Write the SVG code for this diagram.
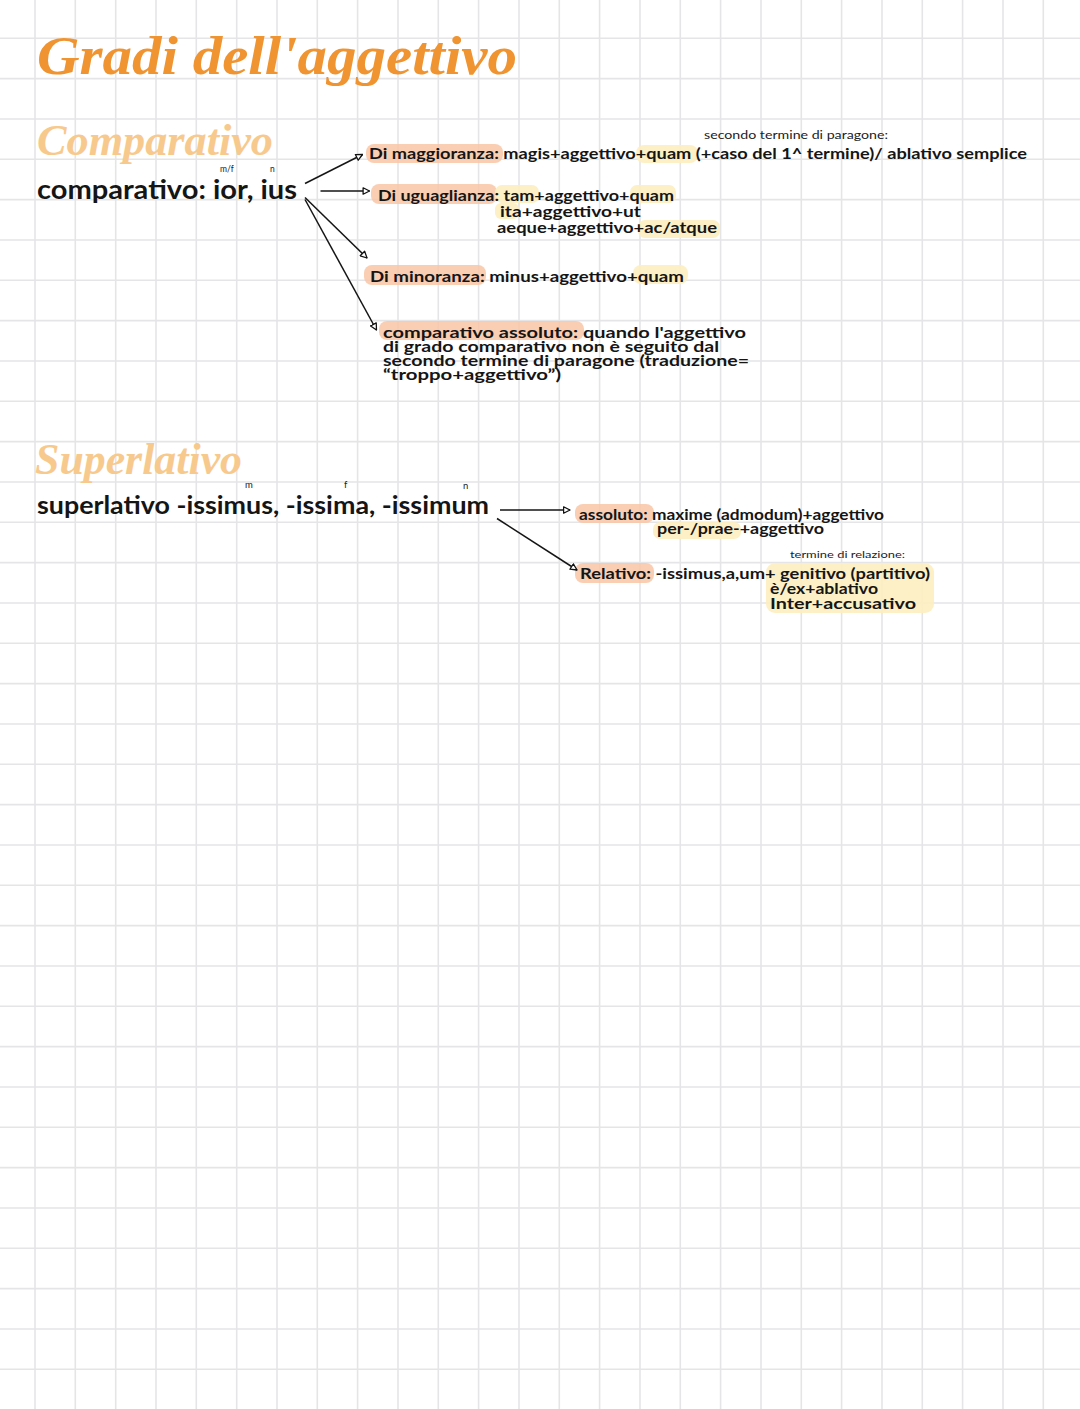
<svg xmlns="http://www.w3.org/2000/svg" width="1080" height="1409" viewBox="0 0 1080 1409">
<defs>
<marker id="ah" viewBox="0 0 10 10" refX="9" refY="5" markerWidth="8" markerHeight="8" markerUnits="userSpaceOnUse" orient="auto">
<path d="M1,1 L9,5 L1,9 Z" fill="#ffffff" stroke="#111111" stroke-width="1.6" stroke-linejoin="round"/>
</marker>
</defs>
<style>
.grid{fill:none;stroke:#e5e5e8;stroke-width:1.6}
.title{font-family:"Liberation Serif","DejaVu Serif",serif;font-style:italic;font-weight:bold}
.t{font-family:Lato,"Noto Sans",sans-serif;font-weight:bold;fill:#151515}
.s{font-family:Lato,"Noto Sans",sans-serif;font-weight:normal;fill:#222222}
.hs{fill:#f9c6a6;opacity:0.85}
.hy{fill:#fdeec0;opacity:0.9}
.con{fill:none;stroke:#151515;stroke-width:1.5;marker-end:url(#ah)}
</style>
<rect width="1080" height="1409" fill="#ffffff"/>
<path class="grid" d="M35 0V1409M75.3 0V1409M115.7 0V1409M156 0V1409M196.3 0V1409M236.7 0V1409M277 0V1409M317.3 0V1409M357.6 0V1409M398 0V1409M438.3 0V1409M478.6 0V1409M519 0V1409M559.3 0V1409M599.6 0V1409M640 0V1409M680.3 0V1409M720.6 0V1409M761 0V1409M801.3 0V1409M841.6 0V1409M882 0V1409M922.3 0V1409M962.6 0V1409M1003 0V1409M1043.3 0V1409M0 38.3H1080M0 78.6H1080M0 119H1080M0 159.3H1080M0 199.6H1080M0 240H1080M0 280.3H1080M0 320.6H1080M0 361H1080M0 401.3H1080M0 441.6H1080M0 482H1080M0 522.3H1080M0 562.6H1080M0 603H1080M0 643.3H1080M0 683.6H1080M0 724H1080M0 764.3H1080M0 804.6H1080M0 845H1080M0 885.3H1080M0 925.6H1080M0 966H1080M0 1006.3H1080M0 1046.6H1080M0 1087H1080M0 1127.3H1080M0 1167.6H1080M0 1208H1080M0 1248.3H1080M0 1288.6H1080M0 1329H1080M0 1369.3H1080"/>

<g id="title">
<text class="title" x="37" y="74" font-size="54" fill="#ef9430" textLength="480" lengthAdjust="spacingAndGlyphs">Gradi dell'aggettivo</text>
</g>

<g id="heading-comparativo">
<text class="title" x="37" y="155" font-size="44" fill="#f8c98c" textLength="236" lengthAdjust="spacingAndGlyphs">Comparativo</text>
</g>

<g id="node-comparativo">
<text class="s" x="220" y="172" font-size="8.5">m/f</text>
<text class="s" x="270" y="172" font-size="8.5">n</text>
<text class="t" x="37" y="199" font-size="26" textLength="260" lengthAdjust="spacingAndGlyphs">comparativo: ior, ius</text>
</g>

<g id="node-maggioranza">
<rect class="hs" x="366" y="144" width="137" height="19" rx="8"/>
<rect class="hy" x="636" y="145" width="62" height="18" rx="8"/>
<text class="s" x="704" y="139" font-size="10.5" textLength="184" lengthAdjust="spacingAndGlyphs">secondo termine di paragone:</text>
<text class="t" x="369" y="159" font-size="15.5" textLength="658" lengthAdjust="spacingAndGlyphs">Di maggioranza: magis+aggettivo+quam (+caso del 1^ termine)/ ablativo semplice</text>
</g>

<g id="node-uguaglianza">
<rect class="hs" x="371" y="184" width="126" height="20" rx="8"/>
<rect class="hy" x="495" y="185" width="44" height="18" rx="7"/>
<rect class="hy" x="630" y="185" width="46" height="18" rx="7"/>
<rect class="hy" x="495" y="203" width="24" height="16" rx="6"/>
<rect class="hy" x="638" y="220" width="82" height="18" rx="7"/>
<text class="t" x="378" y="201" font-size="15.5" textLength="296" lengthAdjust="spacingAndGlyphs">Di uguaglianza: tam+aggettivo+quam</text>
<text class="t" x="500" y="217" font-size="15.5" textLength="141" lengthAdjust="spacingAndGlyphs">ita+aggettivo+ut</text>
<text class="t" x="497" y="233" font-size="15.5" textLength="220" lengthAdjust="spacingAndGlyphs">aeque+aggettivo+ac/atque</text>
</g>

<g id="node-minoranza">
<rect class="hs" x="364" y="265" width="122" height="20" rx="8"/>
<rect class="hy" x="633" y="265" width="55" height="19" rx="8"/>
<text class="t" x="370" y="282" font-size="15.5" textLength="314" lengthAdjust="spacingAndGlyphs">Di minoranza: minus+aggettivo+quam</text>
</g>

<g id="node-assoluto-comp">
<rect class="hs" x="379" y="321" width="205" height="19" rx="8"/>
<text class="t" x="383" y="337.5" font-size="14.5" textLength="363" lengthAdjust="spacingAndGlyphs">comparativo assoluto: quando l'aggettivo</text>
<text class="t" x="383" y="351.5" font-size="14.5" textLength="336" lengthAdjust="spacingAndGlyphs">di grado comparativo non è seguito dal</text>
<text class="t" x="383" y="365.5" font-size="14.5" textLength="366" lengthAdjust="spacingAndGlyphs">secondo termine di paragone (traduzione=</text>
<text class="t" x="383" y="379.5" font-size="14.5" textLength="178" lengthAdjust="spacingAndGlyphs">“troppo+aggettivo”)</text>
</g>

<g id="heading-superlativo">
<text class="title" x="35" y="474" font-size="44" fill="#f8c98c" textLength="207" lengthAdjust="spacingAndGlyphs">Superlativo</text>
</g>

<g id="node-superlativo">
<text class="s" x="245" y="488" font-size="9.5">m</text>
<text class="s" x="344" y="488" font-size="9.5">f</text>
<text class="s" x="463" y="489" font-size="9.5">n</text>
<text class="t" x="37" y="514" font-size="24" textLength="452" lengthAdjust="spacingAndGlyphs">superlativo -issimus, -issima, -issimum</text>
</g>

<g id="node-assoluto-sup">
<rect class="hs" x="575" y="504" width="79" height="19" rx="8"/>
<rect class="hy" x="653" y="522" width="88" height="17" rx="7"/>
<text class="t" x="579" y="520" font-size="14.5" textLength="305" lengthAdjust="spacingAndGlyphs">assoluto: maxime (admodum)+aggettivo</text>
<text class="t" x="657" y="534" font-size="14.5" textLength="167" lengthAdjust="spacingAndGlyphs">per-/prae-+aggettivo</text>
</g>

<g id="node-relativo">
<rect class="hs" x="575" y="563" width="79" height="20" rx="8"/>
<rect class="hy" x="766" y="563" width="168" height="50" rx="9"/>
<text class="s" x="790" y="558" font-size="10" textLength="115" lengthAdjust="spacingAndGlyphs">termine di relazione:</text>
<text class="t" x="580" y="579" font-size="14.5" textLength="350" lengthAdjust="spacingAndGlyphs">Relativo: -issimus,a,um+ genitivo (partitivo)</text>
<text class="t" x="770" y="594" font-size="14.5" textLength="108" lengthAdjust="spacingAndGlyphs">è/ex+ablativo</text>
<text class="t" x="770" y="609" font-size="14.5" textLength="146" lengthAdjust="spacingAndGlyphs">Inter+accusativo</text>
</g>

<g id="connectors">
<path class="con" d="M305 183.5L362.5 154.5"/>
<path class="con" d="M320.5 191L369.5 191"/>
<path class="con" d="M305 197.5L367 258"/>
<path class="con" d="M305 199.5L376.5 330"/>
<path class="con" d="M500 510L570 510"/>
<path class="con" d="M497 518.5L577 570"/>
</g>
</svg>
